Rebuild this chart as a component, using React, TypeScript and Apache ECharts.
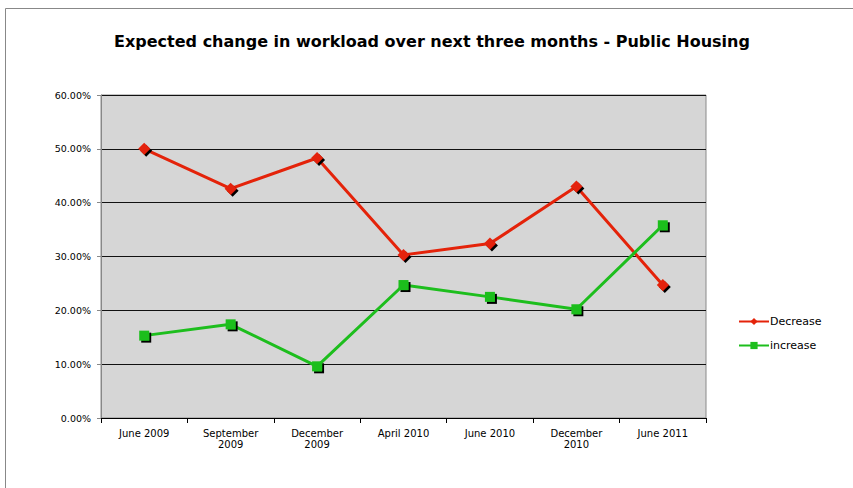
import React, { useEffect, useRef } from "react";
import * as echarts from "echarts";

const categories = [
  "June 2009",
  "September 2009",
  "December 2009",
  "April 2010",
  "June 2010",
  "December 2010",
  "June 2011",
];
const decreaseValues = [50.0, 42.6, 48.3, 30.3, 32.4, 43.0, 24.7];
const increaseValues = [15.3, 17.4, 9.6, 24.7, 22.5, 20.2, 35.8];
const seriesNames = ["Decrease", "increase"];

const FONT = "DejaVu Sans, Verdana, sans-serif";

export default function App() {
  const ref = useRef<HTMLDivElement>(null);
  useEffect(() => {
    if (!ref.current) return;
    const chart = echarts.init(ref.current, null, { renderer: "svg" });
    chart.setOption({
      animation: false,
      backgroundColor: "#ffffff",
      title: {
        text: "Expected change in workload over next three months - Public Housing",
        left: 427,
        textAlign: "center",
        top: 28,
        textStyle: { fontFamily: FONT, fontSize: 16, fontWeight: "bold", color: "#000" },
      },
      graphic: [
        {
          type: "rect",
          shape: { x: 5.5, y: 8.5, width: 900, height: 600 },
          style: { fill: "none", stroke: "#888", lineWidth: 1 },
          silent: true,
          z: -1,
        },
      ],
      legend: {
        orient: "vertical",
        left: 738,
        top: 316,
        padding: 0,
        itemWidth: 30,
        itemHeight: 9,
        itemGap: 13,
        textStyle: { fontFamily: FONT, fontSize: 11, color: "#000", padding: [0, 0, 0, -4] },
        data: seriesNames,
      },
      grid: {
        left: 101,
        right: 147,
        top: 95,
        bottom: 70,
        show: true,
        backgroundColor: "#D6D6D6",
        borderColor: "#8a8a8a",
        borderWidth: 1,
      },
      xAxis: {
        type: "category",
        data: categories,
        boundaryGap: true,
        axisLine: { show: true, lineStyle: { color: "#000", width: 1 } },
        axisTick: { show: true, length: 5, lineStyle: { color: "#000" } },
        axisLabel: {
          fontFamily: FONT,
          fontSize: 10,
          color: "#000",
          margin: 10,
          lineHeight: 11,
          formatter: (v: string) => (v.length > 10 ? v.replace(" ", "\n") : v),
        },
      },
      yAxis: {
        type: "value",
        min: 0,
        max: 60,
        interval: 10,
        axisLine: { show: true, lineStyle: { color: "#888" } },
        axisTick: { show: true, length: 4, lineStyle: { color: "#888" } },
        axisLabel: {
          fontFamily: FONT,
          fontSize: 9.5,
          color: "#000",
          margin: 10,
          formatter: (v: number) => v.toFixed(2) + "%",
        },
        splitLine: { show: true, lineStyle: { color: "#111", width: 1 } },
      },
      series: [
        {
          name: seriesNames[0],
          type: "line",
          data: decreaseValues,
          symbol: "diamond",
          symbolSize: 12,
          lineStyle: { color: "#E4230A", width: 3 },
          itemStyle: {
            color: "#E4230A",
            shadowColor: "#000",
            shadowOffsetX: 2,
            shadowOffsetY: 2,
            shadowBlur: 0,
          },
        },
        {
          name: seriesNames[1],
          type: "line",
          data: increaseValues,
          symbol: "rect",
          symbolSize: 10,
          lineStyle: { color: "#1DBE1D", width: 3 },
          itemStyle: {
            color: "#1DBE1D",
            shadowColor: "#000",
            shadowOffsetX: 2,
            shadowOffsetY: 2,
            shadowBlur: 0,
          },
        },
      ],
    });
    return () => chart.dispose();
  }, []);
  return (
    <div
      ref={ref}
      style={{ position: "fixed", left: 0, top: 0, width: 853, height: 488 }}
    />
  );
}
